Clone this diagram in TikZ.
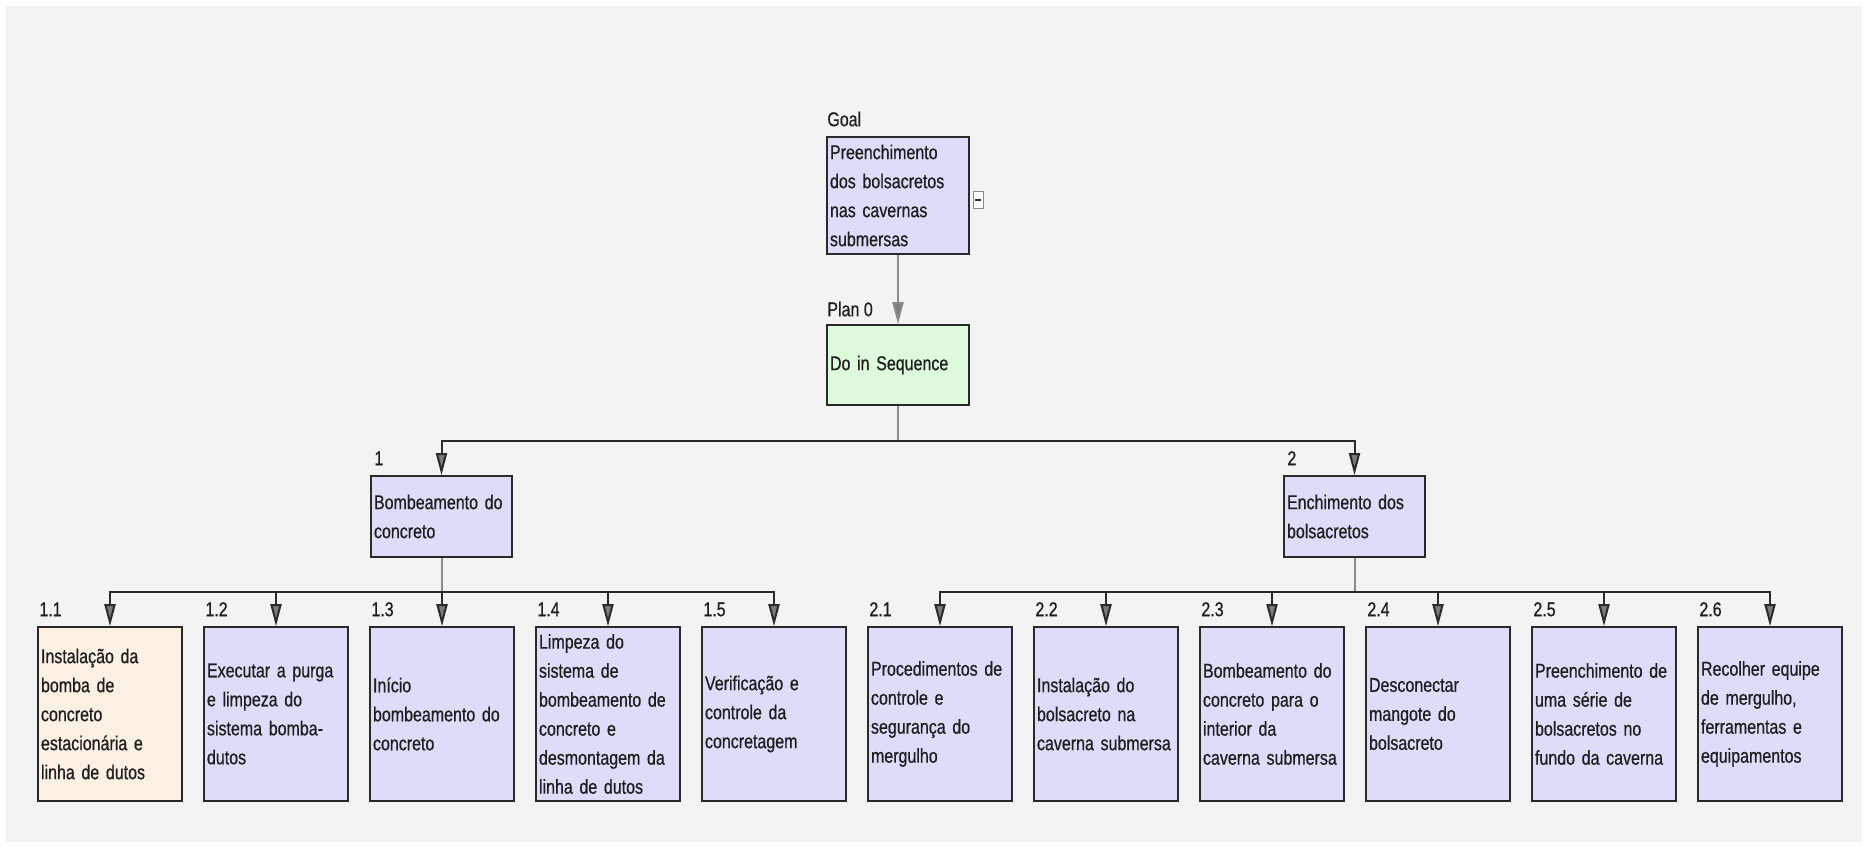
\documentclass[tikz,border=0pt]{standalone}
\usepackage{fontspec}
\setmainfont{Liberation Sans}[FakeStretch=0.8, FakeBold=0.6]
\usetikzlibrary{arrows.meta}
\definecolor{bg}{HTML}{F3F3F3}
\definecolor{lav}{HTML}{DDDDFA}
\definecolor{peach}{HTML}{FBF0E4}
\definecolor{mint}{HTML}{DDFADD}
\definecolor{ink}{HTML}{1E1E1E}
\definecolor{edge}{HTML}{2A2A2A}
\definecolor{stubc}{HTML}{8A8A8A}
\definecolor{tipc}{HTML}{7C7C7C}
\tikzset{
  box/.style={draw=edge, line width=1.6pt, fill=lav, text=ink, align=left,
    inner xsep=3pt, inner ysep=0pt,
    font=\fontsize{20}{29}\selectfont},
  leaf/.style={box, minimum height=174pt, text width=138pt},
  mid/.style={box, minimum height=81pt, text width=135pt},
  lbl/.style={anchor=base west, text=ink, inner sep=0pt, font=\fontsize{20}{29}\selectfont},
  stub/.style={draw=stubc, line width=2pt},
  drop/.style={draw=edge, line width=2pt,
    -{Triangle[length=22pt, width=11pt, fill=tipc]}},
  dropg/.style={draw=stubc, line width=2pt,
    -{Triangle[length=22pt, width=11pt, fill=tipc]}},
}
\begin{document}
\begin{tikzpicture}[x=1pt, y=-1pt]
\useasboundingbox (0,0) rectangle (1871,849);
\fill[white] (0,0) rectangle (1871,849);
\fill[bg] (6,6) rectangle (1862,842);

% top nodes
\node[box, minimum width=142pt, minimum height=117pt, text width=136pt] (goal) at (898,195.5)
  {Preenchimento\\dos bolsacretos\\nas cavernas\\submersas};
\node[box, fill=mint, minimum width=142pt, minimum height=80pt, text width=136pt] (plan) at (898,365)
  {Do in Sequence};
\node[lbl] (lgoal) at ([xshift=1pt,yshift=10pt]goal.north west) {Goal};
\node[lbl] (lplan) at ([xshift=1pt,yshift=8pt]plan.north west) {Plan 0};
\node[draw=stubc, fill=white, line width=1pt, minimum width=10pt, minimum height=17pt, inner sep=0pt] (tog) at (978,200) {};
\draw[edge, line width=1.5pt] ([xshift=-3pt]tog.center) -- ([xshift=3pt]tog.center);

\node[mid] (n1) at (441.5,516.5) {Bombeamento do\\concreto};
\node[mid] (n2) at (1354.5,516.5) {Enchimento dos\\bolsacretos};
\node[lbl] (ln1) at ([xshift=4pt,yshift=10pt]n1.north west) {1};
\node[lbl] (ln2) at ([xshift=4pt,yshift=10pt]n2.north west) {2};

% leaves
\node[leaf, fill=peach] (n11) at (110,714) {Instalação da\\bomba de\\concreto\\estacionária e\\linha de dutos};
\node[leaf] (n12) at (276,714) {Executar a purga\\e limpeza do\\sistema bomba-\\dutos};
\node[leaf] (n13) at (442,714) {Início\\bombeamento do\\concreto};
\node[leaf] (n14) at (608,714) {Limpeza do\\sistema de\\bombeamento de\\concreto e\\desmontagem da\\linha de dutos};
\node[leaf] (n15) at (774,714) {Verificação e\\controle da\\concretagem};
\node[leaf] (n21) at (940,714) {Procedimentos de\\controle e\\segurança do\\mergulho};
\node[leaf] (n22) at (1106,714) {Instalação do\\bolsacreto na\\caverna submersa};
\node[leaf] (n23) at (1272,714) {Bombeamento do\\concreto para o\\interior da\\caverna submersa};
\node[leaf] (n24) at (1438,714) {Desconectar\\mangote do\\bolsacreto};
\node[leaf] (n25) at (1604,714) {Preenchimento de\\uma série de\\bolsacretos no\\fundo da caverna};
\node[leaf] (n26) at (1770,714) {Recolher equipe\\de mergulho,\\ferramentas e\\equipamentos};

\foreach \n/\t in {n11/1.1,n12/1.2,n13/1.3,n14/1.4,n15/1.5,n21/2.1,n22/2.2,n23/2.3,n24/2.4,n25/2.5,n26/2.6}
  \node[lbl] (l\n) at ([xshift=2pt,yshift=10pt]\n.north west) {\t};

% bus levels
\coordinate (busA) at (898,441);
\coordinate (busB) at (442,592);
\coordinate (busC) at (1355,592);

% connectors
\draw[dropg] (goal.south) -- (plan.north);
\draw[stub] (plan.south) -- (busA);
\foreach \c in {n1,n2}
  \draw[drop] (busA) -| (\c.north);
\draw[stub] (n1.south) -- (n1.south |- busB);
\foreach \c in {n11,n12,n13,n14,n15}
  \draw[drop] (n1.south |- busB) -| (\c.north);
\draw[stub] (n2.south) -- (n2.south |- busC);
\foreach \c in {n21,n22,n23,n24,n25,n26}
  \draw[drop] (n2.south |- busC) -| (\c.north);
\end{tikzpicture}
\end{document}
